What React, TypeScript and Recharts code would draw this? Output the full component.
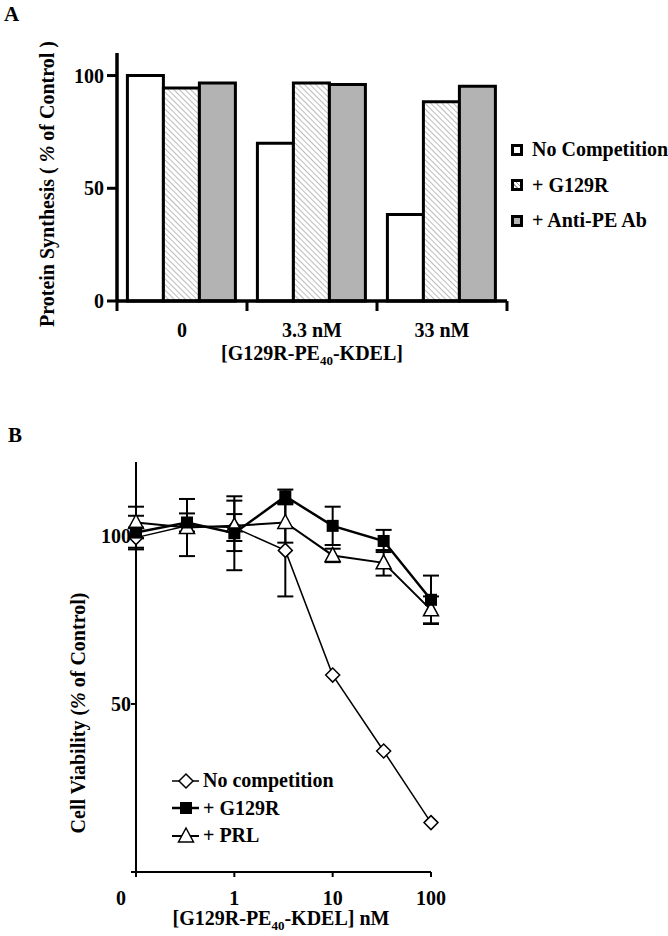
import React from 'react'
import { BarChart, Bar, LineChart, Line, XAxis, YAxis, ErrorBar, Legend } from 'recharts'

// Panel A: protein synthesis vs toxin dose
const doseGroups = ['0', '3.3 nM', '33 nM']
const noCompetitionA = [100, 70, 38.4]
const g129rA = [94.5, 96.7, 88.4]
const antiPeA = [96.7, 96, 95.2]

// Panel B: cell viability vs concentration (0 plotted at 0.1 on the log axis)
const concentrations = [0.1, 0.33, 1, 3.3, 10, 33, 100]
const noCompetitionB = [99.5, 103, 102.5, 95.7, 58.6, 36, 14.7]
const noCompetitionErr = [3, 0, 4, 13.7, 0, 0, 0]
const g129rB = [101, 104, 100.8, 111.8, 103, 98.5, 81]
const g129rErr = [5, 2.7, 11, 2, 5.7, 3.3, 7.2]
const prlB = [104, 102.5, 103, 104, 94.2, 92, 78]
const prlErr = [4.7, 8.5, 7.5, 6, 2, 3.8, 4]
const xTicksB = [0.1, 1, 10, 100]

const FONT = '"Liberation Serif", "Times New Roman", serif'
const tickStyle = { fontFamily: FONT, fontWeight: 'bold', fontSize: 20, fill: '#000' }

const barData = doseGroups.map((group, i) => ({
  group,
  none: noCompetitionA[i],
  g129r: g129rA[i],
  antiPe: antiPeA[i],
}))

const lineData = concentrations.map((conc, i) => ({
  conc,
  none: noCompetitionB[i],
  noneErr: noCompetitionErr[i],
  g129r: g129rB[i],
  g129rErr: g129rErr[i],
  prl: prlB[i],
  prlErr: prlErr[i],
}))

const legendA = [
  { label: 'No Competition', fill: '#fff' },
  { label: '+ G129R', fill: 'repeating-linear-gradient(45deg, #fff 0 2px, #a0a0a0 2px 3px)' },
  { label: '+ Anti-PE Ab', fill: '#b3b3b3' },
]

const legendB = [
  { label: 'No competition', shape: 'diamond', width: 1.5 },
  { label: '+ G129R', shape: 'square', width: 2.5 },
  { label: '+ PRL', shape: 'triangle', width: 2 },
]

function Marker({ cx, cy, shape }: any) {
  if (cx == null || cy == null) return null
  if (shape === 'diamond') {
    return (
      <path
        d={`M${cx},${cy - 7}L${cx + 7},${cy}L${cx},${cy + 7}L${cx - 7},${cy}Z`}
        fill="#fff"
        stroke="#000"
        strokeWidth={1.5}
      />
    )
  }
  if (shape === 'square') {
    return <rect x={cx - 6} y={cy - 6} width={12} height={12} fill="#000" />
  }
  return (
    <path
      d={`M${cx},${cy - 8}L${cx + 7.5},${cy + 6}L${cx - 7.5},${cy + 6}Z`}
      fill="#fff"
      stroke="#000"
      strokeWidth={1.5}
    />
  )
}

function CategoryTick({ x, y, payload, index }: any) {
  const half = payload.offset || 65
  return (
    <g>
      <line x1={x - half} x2={x - half} y1={y} y2={y + 10} stroke="#000" strokeWidth={3} />
      {index === doseGroups.length - 1 && (
        <line x1={x + half} x2={x + half} y1={y} y2={y + 10} stroke="#000" strokeWidth={3} />
      )}
      <text x={x} y={y + 36} textAnchor="middle" style={tickStyle}>
        {payload.value}
      </text>
    </g>
  )
}

function LogTick({ x, y, payload }: any) {
  const zero = payload.value === 0.1
  return (
    <text x={zero ? x - 15 : x} y={y + 26} textAnchor="middle" style={tickStyle}>
      {zero ? '0' : payload.value}
    </text>
  )
}

function LegendBoxA() {
  return (
    <div style={{ fontFamily: FONT, fontWeight: 'bold', fontSize: 20, color: '#000' }}>
      {legendA.map((item) => (
        <div key={item.label} style={{ display: 'flex', alignItems: 'center', height: 35.5, whiteSpace: 'nowrap' }}>
          <span
            style={{
              display: 'inline-block',
              width: 6,
              height: 6,
              border: '3px solid #000',
              background: item.fill,
              marginRight: 9,
            }}
          />
          <span>{item.label}</span>
        </div>
      ))}
    </div>
  )
}

function LegendBoxB() {
  return (
    <div style={{ fontFamily: FONT, fontWeight: 'bold', fontSize: 20, color: '#000' }}>
      {legendB.map((item) => (
        <div key={item.label} style={{ display: 'flex', alignItems: 'center', height: 27.5, whiteSpace: 'nowrap' }}>
          <svg width={31} height={20} style={{ display: 'block' }}>
            <line x1={0} x2={27} y1={10} y2={10} stroke="#000" strokeWidth={item.width} />
            <Marker cx={14} cy={10} shape={item.shape} />
          </svg>
          <span>{item.label}</span>
        </div>
      ))}
    </div>
  )
}

const titleStyle: React.CSSProperties = {
  position: 'absolute',
  fontFamily: FONT,
  fontWeight: 'bold',
  fontSize: 20,
  lineHeight: 1,
  whiteSpace: 'nowrap',
  color: '#000',
}

export default function App() {
  return (
    <div style={{ position: 'absolute', left: 0, top: 0, width: 668, height: 936, background: '#fff', overflow: 'hidden' }}>
      <div style={{ ...titleStyle, fontSize: 21, left: 4, top: 3.5 }}>A</div>
      <div style={{ ...titleStyle, fontSize: 21, left: 8, top: 424.5 }}>B</div>

      <div style={{ position: 'absolute', left: 0, top: 0 }}>
        <BarChart
          width={668}
          height={380}
          data={barData}
          margin={{ top: 53, right: 161, left: 57, bottom: 49 }}
          barCategoryGap="8%"
          barGap={0}
        >
          <defs>
            <pattern id="hatch" width={4} height={4} patternUnits="userSpaceOnUse" patternTransform="rotate(45)">
              <rect width={4} height={4} fill="#fff" />
              <line x1={0} y1={0} x2={4} y2={0} stroke="#a0a0a0" strokeWidth={1.4} />
            </pattern>
          </defs>
          <XAxis
            dataKey="group"
            height={30}
            axisLine={{ stroke: '#000', strokeWidth: 3.5 }}
            tickLine={false}
            tickSize={0}
            tickMargin={0}
            tick={<CategoryTick />}
            interval={0}
          />
          <YAxis
            width={60}
            domain={[0, 110]}
            ticks={[0, 50, 100]}
            interval={0}
            tickSize={10}
            tickMargin={3}
            axisLine={{ stroke: '#000', strokeWidth: 3.5 }}
            tickLine={{ stroke: '#000', strokeWidth: 3 }}
            tick={tickStyle}
          />
          <Legend
            layout="vertical"
            align="center"
            verticalAlign="middle"
            content={() => <LegendBoxA />}
            wrapperStyle={{ left: 511, top: 132, width: 160 }}
          />
          <Bar dataKey="none" name="No Competition" fill="#fff" stroke="#000" strokeWidth={3} isAnimationActive={false} />
          <Bar dataKey="g129r" name="+ G129R" fill="url(#hatch)" stroke="#000" strokeWidth={3} isAnimationActive={false} />
          <Bar dataKey="antiPe" name="+ Anti-PE Ab" fill="#b3b3b3" stroke="#000" strokeWidth={3} isAnimationActive={false} />
        </BarChart>
      </div>

      <div style={{ ...titleStyle, left: 47, top: 184, transform: 'translate(-50%, -50%) rotate(-90deg)' }}>
        Protein Synthesis ( <i>%</i> of Control )
      </div>
      <div style={{ ...titleStyle, left: 312, top: 355, transform: 'translate(-50%, -50%)' }}>
        [G129R-PE<sub style={{ fontSize: 13 }}>40</sub>-KDEL]
      </div>

      <div style={{ position: 'absolute', left: 0, top: 420 }}>
        <LineChart
          width={668}
          height={516}
          data={lineData}
          margin={{ top: 42, right: 237, left: 76, bottom: 34 }}
        >
          <XAxis
            dataKey="conc"
            type="number"
            scale="log"
            domain={[0.1, 100]}
            ticks={xTicksB}
            interval={0}
            height={30}
            tickSize={5}
            tickMargin={2}
            axisLine={{ stroke: '#000', strokeWidth: 2 }}
            tickLine={{ stroke: '#000', strokeWidth: 2 }}
            tick={<LogTick />}
          />
          <YAxis
            width={60}
            domain={[0, 122]}
            ticks={[0, 50, 100]}
            interval={0}
            tickSize={5}
            tickMargin={0}
            tickFormatter={(v: number) => (v === 0 ? '' : String(v))}
            axisLine={{ stroke: '#000', strokeWidth: 2 }}
            tickLine={{ stroke: '#000', strokeWidth: 2 }}
            tick={tickStyle}
          />
          <Legend
            layout="vertical"
            align="center"
            verticalAlign="middle"
            content={() => <LegendBoxB />}
            wrapperStyle={{ left: 172, top: 347, width: 200 }}
          />
          <Line
            dataKey="none"
            name="No competition"
            stroke="#000"
            strokeWidth={1.5}
            isAnimationActive={false}
            dot={(p: any) => <Marker key={`n-${p.index}`} cx={p.cx} cy={p.cy} shape="diamond" />}
          >
            <ErrorBar dataKey="noneErr" direction="y" width={8} stroke="#000" strokeWidth={2} />
          </Line>
          <Line
            dataKey="prl"
            name="+ PRL"
            stroke="#000"
            strokeWidth={2}
            isAnimationActive={false}
            dot={(p: any) => <Marker key={`p-${p.index}`} cx={p.cx} cy={p.cy} shape="triangle" />}
          >
            <ErrorBar dataKey="prlErr" direction="y" width={8} stroke="#000" strokeWidth={2} />
          </Line>
          <Line
            dataKey="g129r"
            name="+ G129R"
            stroke="#000"
            strokeWidth={2.5}
            isAnimationActive={false}
            dot={(p: any) => <Marker key={`g-${p.index}`} cx={p.cx} cy={p.cy} shape="square" />}
          >
            <ErrorBar dataKey="g129rErr" direction="y" width={8} stroke="#000" strokeWidth={2} />
          </Line>
        </LineChart>
      </div>

      <div style={{ ...titleStyle, left: 78, top: 713, transform: 'translate(-50%, -50%) rotate(-90deg)' }}>
        Cell Viability (<i>%</i> of Control)
      </div>
      <div style={{ ...titleStyle, left: 281, top: 920, transform: 'translate(-50%, -50%)' }}>
        [G129R-PE<sub style={{ fontSize: 13 }}>40</sub>-KDEL] nM
      </div>
    </div>
  )
}
